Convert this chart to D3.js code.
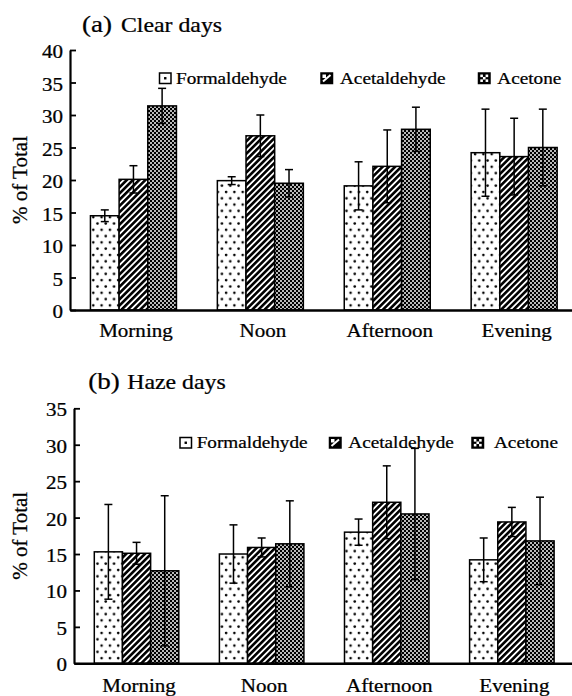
<!DOCTYPE html>
<html><head><meta charset="utf-8">
<script src="https://cdn.jsdelivr.net/npm/d3@7"></script>
<style>html,body{margin:0;padding:0;background:#fff;} svg{display:block;} text{font-family:'Liberation Serif','DejaVu Serif',serif;}</style>
</head><body>
<svg id="c" width="572" height="696"></svg>
<script>
const categories = ["Morning", "Noon", "Afternoon", "Evening"];
const seriesNames = ["Formaldehyde", "Acetaldehyde", "Acetone"];

// (a) Clear days: values and error (±) per category, series order as above
const clearFormaldehyde = [14.5, 19.9, 19.1, 24.2];
const clearAcetaldehyde = [20.1, 26.8, 22.1, 23.6];
const clearAcetone      = [31.4, 19.5, 27.8, 25.0];
const clearFormaldehydeErr = [0.9, 0.6, 3.7, 6.7];
const clearAcetaldehydeErr = [2.1, 3.2, 5.6, 5.9];
const clearAcetoneErr      = [2.7, 2.1, 3.4, 5.9];

// (b) Haze days
const hazeFormaldehyde = [15.3, 15.0, 18.0, 14.2];
const hazeAcetaldehyde = [15.1, 15.9, 22.1, 19.4];
const hazeAcetone      = [12.7, 16.4, 20.5, 16.8];
const hazeFormaldehydeErr = [6.5, 4.0, 1.8, 3.0];
const hazeAcetaldehydeErr = [1.5, 1.3, 5.0, 2.0];
const hazeAcetoneErr      = [10.3, 5.9, 9.0, 6.0];

const yTicksA = [0, 5, 10, 15, 20, 25, 30, 35, 40];
const yTicksB = [0, 5, 10, 15, 20, 25, 30, 35];

const FONT = "'Liberation Serif','DejaVu Serif',serif";
const svg = d3.select("#c").attr("font-family", FONT);
const SX = 1.15;
const defs = svg.append("defs");

// patterns
const pDots = defs.append("pattern").attr("id","pDots").attr("patternUnits","userSpaceOnUse")
  .attr("width",8.3).attr("height",12.6);
pDots.append("rect").attr("width",8.3).attr("height",12.6).attr("fill","#fff");
pDots.append("circle").attr("cx",2).attr("cy",3).attr("r",1.3).attr("fill","#000");
pDots.append("circle").attr("cx",6.15).attr("cy",9.3).attr("r",1.3).attr("fill","#000");

const pStr = defs.append("pattern").attr("id","pStripes").attr("patternUnits","userSpaceOnUse")
  .attr("width",4.4).attr("height",10).attr("patternTransform","rotate(45)");
pStr.append("rect").attr("width",4.4).attr("height",10).attr("fill","#fff");
pStr.append("rect").attr("width",2.6).attr("height",10).attr("fill","#000");

const pChk = defs.append("pattern").attr("id","pCheck").attr("patternUnits","userSpaceOnUse")
  .attr("width",4).attr("height",4);
pChk.append("rect").attr("width",4).attr("height",4).attr("fill","#000");
pChk.append("rect").attr("x",0.15).attr("y",0.15).attr("width",1.7).attr("height",1.7).attr("fill","#fff");
pChk.append("rect").attr("x",2.15).attr("y",2.15).attr("width",1.7).attr("height",1.7).attr("fill","#fff");

const fills = ["url(#pDots)", "url(#pStripes)", "url(#pCheck)"];

function txt(g, s, x, y, size, anchor, sx) {
  return g.append("text").attr("transform", `translate(${x},${y}) scale(${sx},1)`)
    .attr("font-family", FONT)
    .attr("font-size", size).attr("text-anchor", anchor || "start").attr("fill", "#000")
    .attr("stroke", "#000").attr("stroke-width", 0.25).text(s);
}

function legendIcon(g, i, x, y, w, h) {
  if (i === 0) {
    g.append("rect").attr("x",x).attr("y",y).attr("width",w).attr("height",h)
      .attr("fill","#fff").attr("stroke","#000").attr("stroke-width",1.5);
    g.append("rect").attr("x",x+w/2-1.2).attr("y",y+h/2-1.2).attr("width",2.4).attr("height",2.4).attr("fill","#000");
  } else if (i === 1) {
    g.append("rect").attr("x",x).attr("y",y).attr("width",w).attr("height",h)
      .attr("fill","#000").attr("stroke","#000").attr("stroke-width",1.5);
    g.append("line").attr("x1",x+2).attr("y1",y+h-2).attr("x2",x+w-2).attr("y2",y+2)
      .attr("stroke","#fff").attr("stroke-width",2);
    g.append("rect").attr("x",x+1.5).attr("y",y+1.5).attr("width",3.5).attr("height",3.5).attr("fill","#fff");
  } else {
    g.append("rect").attr("x",x).attr("y",y).attr("width",w).attr("height",h)
      .attr("fill","#000").attr("stroke","#000").attr("stroke-width",1.5);
    const s = 2.6;
    [[0.27,0.27],[0.73,0.27],[0.27,0.73],[0.73,0.73],[0.5,0.5]].forEach(([fx,fy]) => {
      g.append("rect").attr("x",x+w*fx-s/2).attr("y",y+h*fy-s/2).attr("width",s).attr("height",s).attr("fill","#fff");
    });
  }
}

function panel(cfg) {
  const g = svg.append("g");
  const y = d3.scaleLinear().domain([0, cfg.yMax]).range([cfg.y0, cfg.y1]);
  const x = d3.scaleBand().domain(categories).range([cfg.xAxis, cfg.xAxis + 4 * cfg.band]);
  const inner = d3.scaleBand().domain(seriesNames).range([0, cfg.groupW]);
  const off = (x.bandwidth() - cfg.groupW) / 2;

  const rows = [];
  categories.forEach((c, ci) => {
    seriesNames.forEach((s, si) => {
      rows.push({c, s, si, v: cfg.values[si][ci], e: cfg.errs[si][ci]});
    });
  });

  g.selectAll("rect.bar").data(rows).join("rect").attr("class","bar")
    .attr("x", d => x(d.c) + off + inner(d.s))
    .attr("y", d => y(d.v))
    .attr("width", inner.bandwidth())
    .attr("height", d => y(0) - y(d.v))
    .attr("fill", d => fills[d.si])
    .attr("stroke", "#000").attr("stroke-width", 1.5);

  const cx = d => x(d.c) + off + inner(d.s) + inner.bandwidth() / 2;
  const eg = g.append("g").attr("stroke","#000").attr("stroke-width",1.5);
  eg.selectAll("line.v").data(rows).join("line").attr("class","v")
    .attr("x1", cx).attr("x2", cx)
    .attr("y1", d => y(d.v - d.e)).attr("y2", d => y(d.v + d.e));
  eg.selectAll("line.t").data(rows).join("line").attr("class","t")
    .attr("x1", d => cx(d) - 4).attr("x2", d => cx(d) + 4)
    .attr("y1", d => y(d.v + d.e)).attr("y2", d => y(d.v + d.e));
  eg.selectAll("line.b").data(rows).join("line").attr("class","b")
    .attr("x1", d => cx(d) - 4).attr("x2", d => cx(d) + 4)
    .attr("y1", d => y(d.v - d.e)).attr("y2", d => y(d.v - d.e));

  const ya = g.append("g").attr("transform", `translate(${cfg.xAxis},0)`)
    .call(d3.axisLeft(y).tickValues(cfg.ticks).tickSizeInner(-6).tickSizeOuter(0).tickFormat(""));
  ya.select(".domain").attr("stroke","#000").attr("stroke-width",2.2);
  ya.selectAll(".tick line").attr("stroke","#000").attr("stroke-width",1.8);
  cfg.ticks.forEach(t => txt(g, String(t), cfg.xAxis - 7, y(t) + 8, 18.3, "end", SX));

  const xa = g.append("g").attr("transform", `translate(0,${y(0)})`)
    .call(d3.axisBottom(x).tickSize(0).tickSizeOuter(0).tickFormat(""));
  xa.select(".domain").attr("stroke","#000").attr("stroke-width",2.4);
  categories.forEach(c => txt(g, c, x(c) + x.bandwidth() / 2 + 2.5, y(0) + cfg.xLabDy, 18.3, "middle", SX));

  g.append("text").attr("transform", `translate(${cfg.yLabX},${(cfg.y0 + cfg.y1) / 2}) rotate(-90)`)
    .attr("font-family", FONT).attr("stroke","#000").attr("stroke-width",0.25)
    .attr("font-size", 21).attr("text-anchor","middle").text("% of Total");

  txt(g, cfg.tag, cfg.titleX, cfg.titleY, 23.5, "start", SX);
  txt(g, cfg.title, cfg.titleX + 39, cfg.titleY, 20.7, "start", SX);

  seriesNames.forEach((s, i) => {
    legendIcon(g, i, cfg.legBox[i], cfg.legY - 10.5, 11.5, 10.5);
    txt(g, s, cfg.legText[i], cfg.legY, 16.7, "start", SX);
  });
}

panel({
  yMax: 40, y0: 310, y1: 50, xAxis: 70, band: 126.9, groupW: 86, ticks: yTicksA,
  values: [clearFormaldehyde, clearAcetaldehyde, clearAcetone],
  errs: [clearFormaldehydeErr, clearAcetaldehydeErr, clearAcetoneErr],
  xLabDy: 27, yLabX: 27, tag: "(a)", title: "Clear days", titleX: 82, titleY: 32,
  legBox: [159.5, 321, 478.5], legText: [176, 340, 497.3], legY: 83.5
});

panel({
  yMax: 35, y0: 663.3, y1: 408.3, xAxis: 74, band: 125.1, groupW: 84.5, ticks: yTicksB,
  values: [hazeFormaldehyde, hazeAcetaldehyde, hazeAcetone],
  errs: [hazeFormaldehydeErr, hazeAcetaldehydeErr, hazeAcetoneErr],
  xLabDy: 29, yLabX: 27, tag: "(b)", title: "Haze days", titleX: 88.3, titleY: 389,
  legBox: [180, 329.5, 472], legText: [196.7, 348.3, 494], legY: 448
});
</script>
</body></html>
